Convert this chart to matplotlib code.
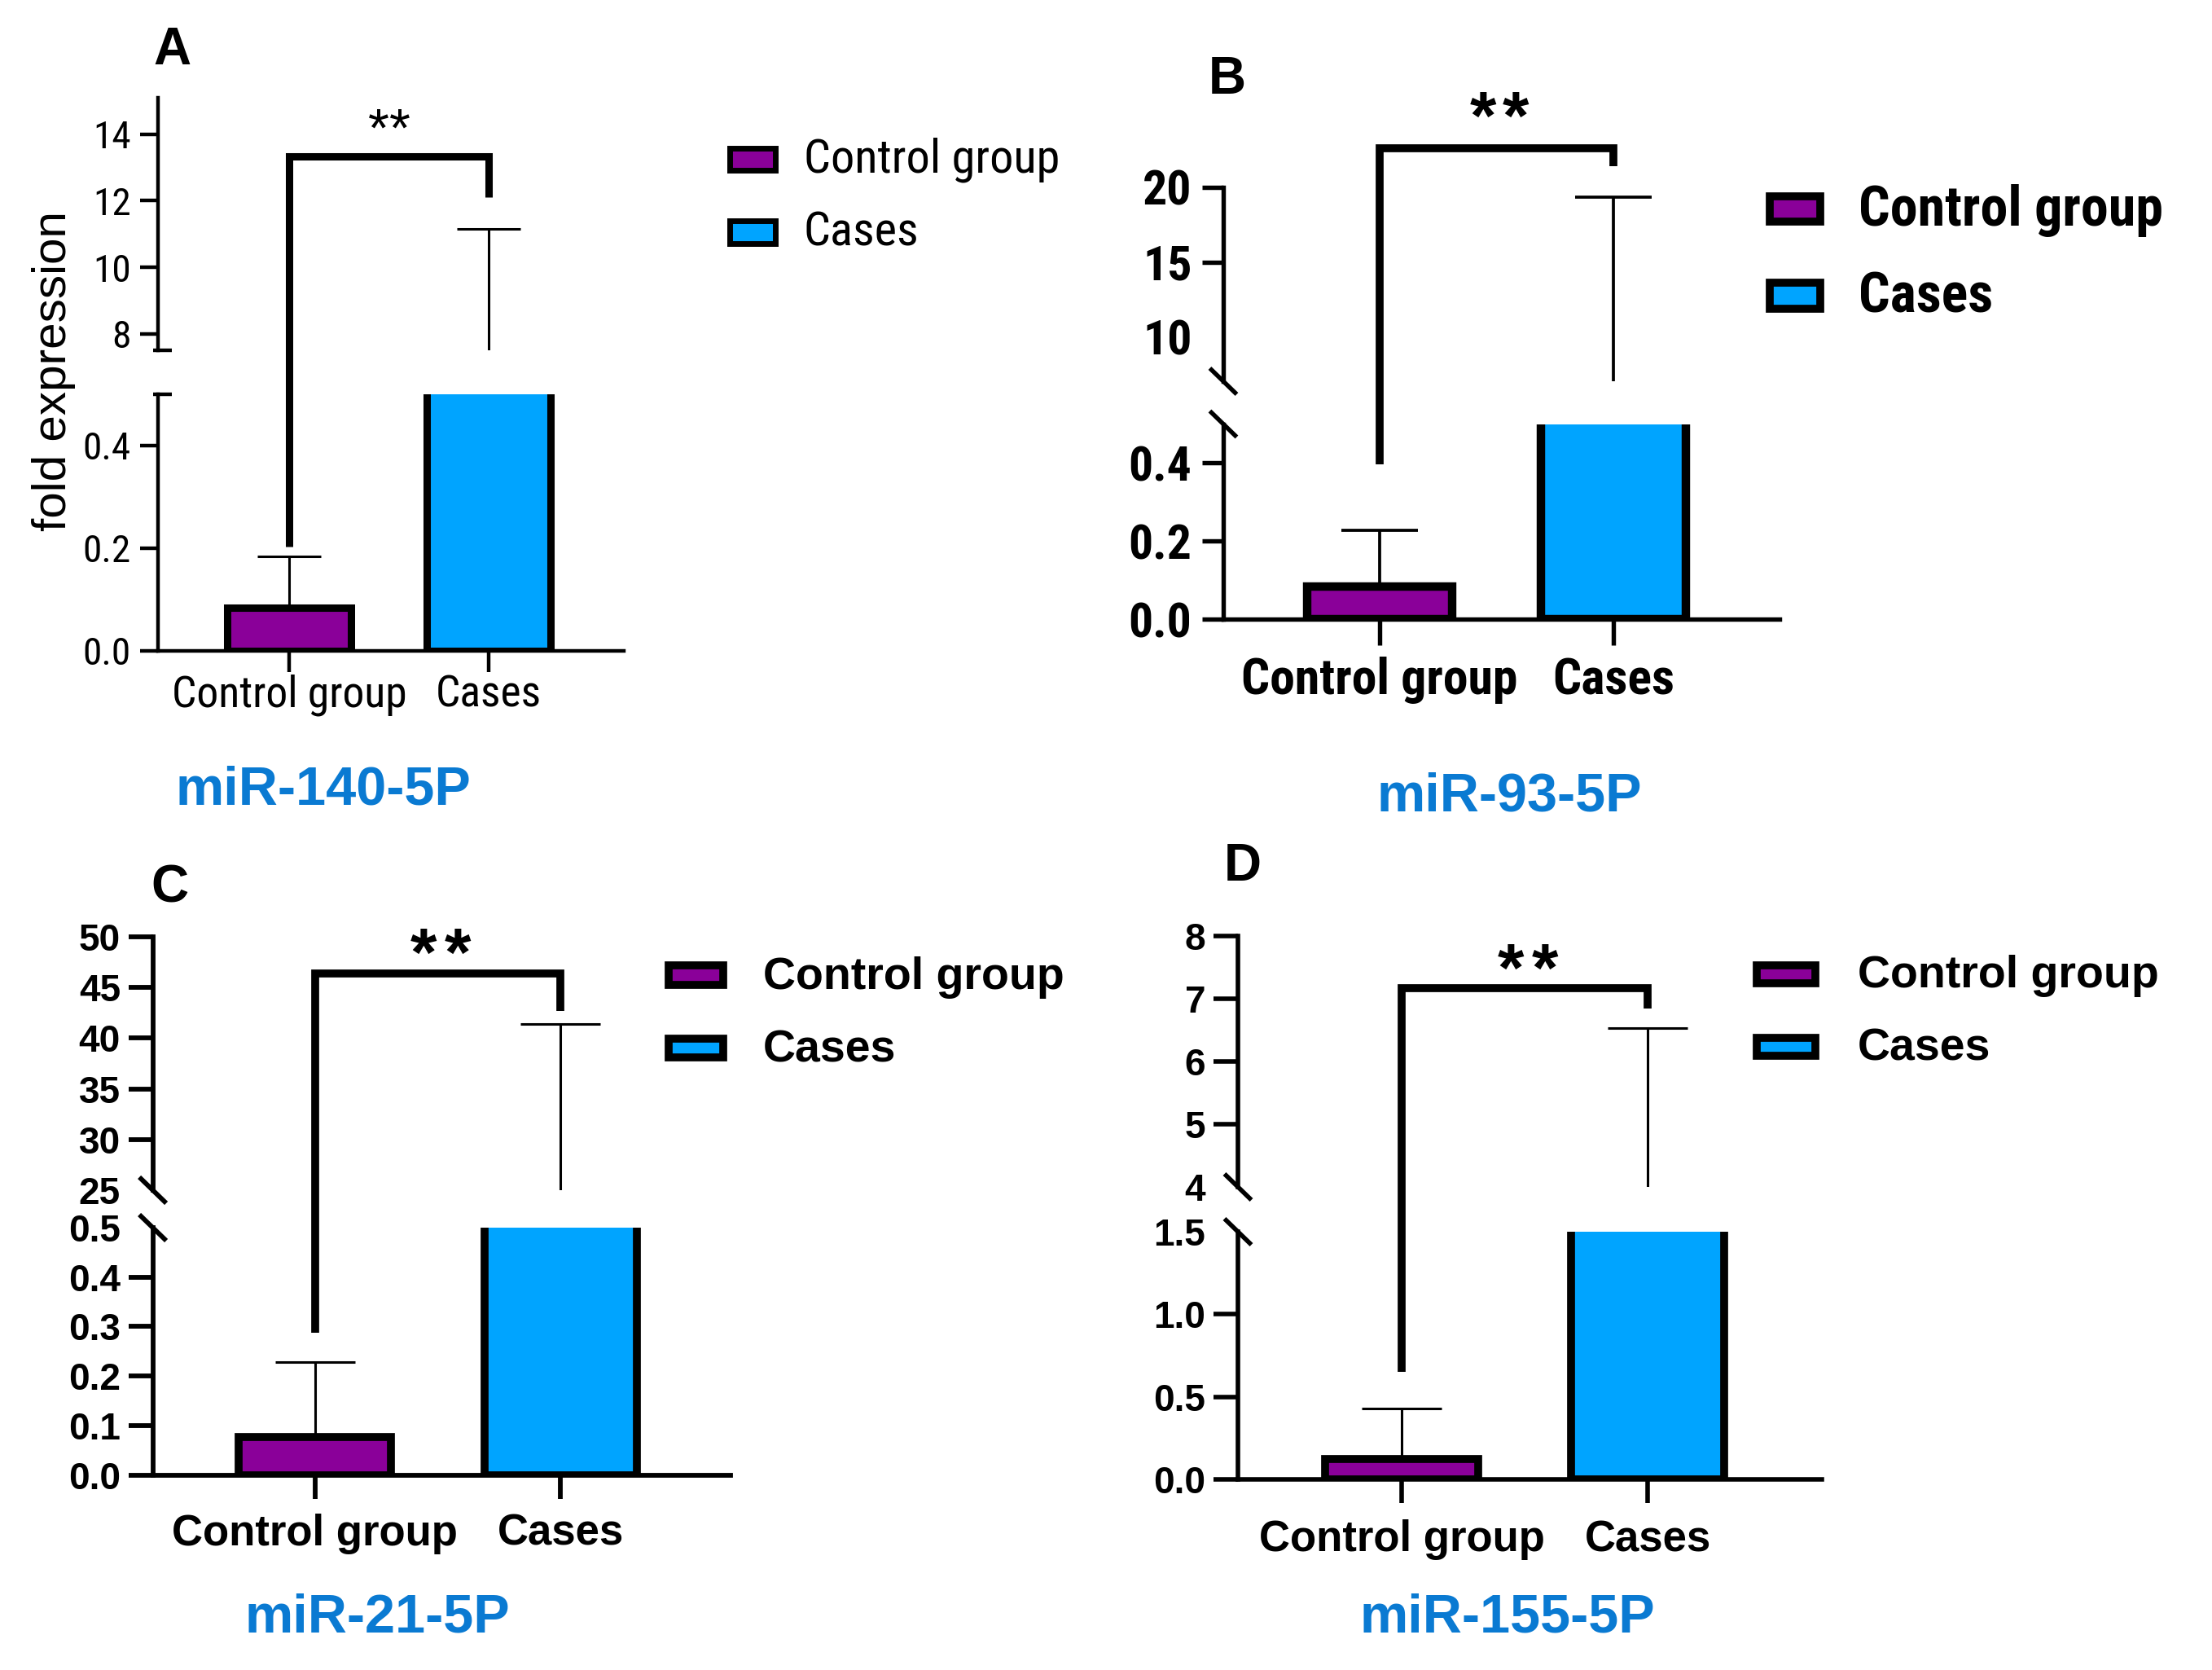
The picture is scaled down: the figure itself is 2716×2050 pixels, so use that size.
import os
import numpy as np
import matplotlib
matplotlib.use("Agg")
import matplotlib.pyplot as plt
from matplotlib import font_manager as fm
from matplotlib.font_manager import FontProperties
from matplotlib.lines import Line2D
from matplotlib.patches import Rectangle
from matplotlib.transforms import IdentityTransform

# ---------------- data ----------------
categories = ["Control group", "Cases"]
panel_letters = ["A", "B", "C", "D"]
mirna_names = ["miR-140-5P", "miR-93-5P", "miR-21-5P", "miR-155-5P"]

control_mean = [0.083, 0.085, 0.077, 0.125]
control_sd = [0.101, 0.144, 0.151, 0.305]
cases_mean = [4.0, 3.5, 12.0, 2.6]
cases_sd = [7.15, 15.86, 29.4, 3.93]

lower_ticks = [[0.0, 0.2, 0.4], [0.0, 0.2, 0.4],
               [0.0, 0.1, 0.2, 0.3, 0.4, 0.5], [0.0, 0.5, 1.0, 1.5]]
upper_ticks = [[8, 10, 12, 14], [10, 15, 20],
               [25, 30, 35, 40, 45, 50], [4, 5, 6, 7, 8]]
lower_limits = [(0, 0.5), (0, 0.5), (0, 0.5), (0, 1.5)]
upper_limits = [(7.5, 15.1), (7, 20), (25, 50), (4, 8)]

bracket_top = [13.34, 22.6, 46.4, 7.16]
bracket_left_end = [0.203, 0.396, 0.288, 0.65]
bracket_right_end = [12.11, 21.44, 42.7, 6.84]
significance = ["**", "**", "**", "**"]

y_label = "fold expression"

# ---------------- fonts ----------------
SANS = "Liberation Sans"


def _weight_num(w):
    if isinstance(w, str):
        return fm.weight_dict.get(w.lower(), 400)
    return int(w)


def _is_narrow(f):
    n = f.name.lower()
    st = f.stretch
    if "narrow" in n or "condensed" in n:
        return True
    if isinstance(st, str):
        return "condensed" in st
    return st < 500


def find_narrow(target_weight):
    prefs = ["liberation sans narrow", "arial narrow", "roboto condensed", "dejavu sans",
             "noto sans", "open sans", "nimbus sans narrow"]
    best = None
    for f in fm.fontManager.ttflist:
        if not _is_narrow(f) or f.style != "normal":
            continue
        base = os.path.basename(f.fname).lower()
        wn = _weight_num(f.weight)
        if "[" in base:
            # variable font: default instance is regular
            wn = 400
        if abs(wn - target_weight) > 50:
            continue
        try:
            rank = prefs.index(f.name.lower())
        except ValueError:
            rank = len(prefs)
        if "semi" in str(f.stretch) or "semi" in base:
            rank += 0.5
        if "[" in base:
            rank += 0.2
        if any(t in base for t in ("light", "thin", "medium", "semibold", "extra", "black")):
            rank += 0.3
        if best is None or rank < best[0]:
            best = (rank, f.fname)
    return best[1] if best else None


narrow_reg_file = find_narrow(400)
narrow_bold_file = find_narrow(700)


def narrow_fp(bold, size):
    fname = narrow_bold_file if bold else narrow_reg_file
    if fname:
        return FontProperties(fname=fname, size=size)
    return FontProperties(family=SANS, weight="bold" if bold else "normal", size=size * 0.85)


def sans_fp(bold, size):
    return FontProperties(family=SANS, weight="bold" if bold else "normal", size=size)


# ---------------- style / layout ----------------
W, H = 2716, 2050
PURPLE = "#8a0099"
BLUE = "#00a4ff"
TITLE_BLUE = "#0a7ad2"

layouts = [
    dict(x_left=194, x_right=766, x_ctrl=355, sp=245, y0=798.7, lo_top=483.7,
         up_bot=430, up_top=120, brk="cap", narrow=True, bold=False,
         tsize=34, xsize=38.5, lsize=42,
         spine=3.2, bar_lw=6.5, br_lw=6.5, wl=2.2, cap=28.4, tlen=16, xtlen=19, tpad=8, xpad=2,
         leg_x=(893, 955), leg_y=[(179, 212), (268, 302)], leg_tx=987, leg_lw=5,
         letter=(211, 79), title=(397, 988), star=(478, 142), star_size=48, star_sep=26),
    dict(x_left=1502, x_right=2185, x_ctrl=1694, sp=287, y0=760.4, lo_top=520.5,
         up_bot=468, up_top=230, brk="slash", narrow=True, bold=True,
         tsize=43, xsize=44.5, lsize=49,
         spine=3.9, bar_lw=7.5, br_lw=7.0, wl=2.7, cap=33.8, tlen=18.7, xtlen=23, tpad=9, xpad=10,
         leg_x=(2168, 2240), leg_y=[(236, 277), (342, 384)], leg_tx=2282, leg_lw=7,
         letter=(1507, 115), title=(1853, 995), star=(1841, 123), star_size=60, star_sep=40),
    dict(x_left=187.6, x_right=896.6, x_ctrl=386.8, sp=301.5, y0=1810.6, lo_top=1507,
         up_bot=1461, up_top=1150, brk="slash", narrow=False, bold=True,
         tsize=33, xsize=38, lsize=40,
         spine=4.2, bar_lw=7.0, br_lw=7.0, wl=2.2, cap=35.3, tlen=21.6, xtlen=21, tpad=7, xpad=13,
         leg_x=(816, 893), leg_y=[(1180, 1214), (1270, 1303)], leg_tx=937, leg_lw=7,
         letter=(208, 1107), title=(463, 2004), star=(541, 1150), star_size=60, star_sep=42),
    dict(x_left=1520, x_right=2237, x_ctrl=1721, sp=302, y0=1816.4, lo_top=1512,
         up_bot=1457, up_top=1148.5, brk="slash", narrow=False, bold=True,
         tsize=33, xsize=38, lsize=40,
         spine=4.0, bar_lw=7.0, br_lw=7.0, wl=2.2, cap=35.3, tlen=21.6, xtlen=21, tpad=7, xpad=14,
         leg_x=(2152, 2234), leg_y=[(1180, 1212), (1269, 1301)], leg_tx=2281, leg_lw=7,
         letter=(1526, 1081), title=(1851, 2004), star=(1876, 1169), star_size=60, star_sep=42),
]

fig = plt.figure(figsize=(W / 100, H / 100), dpi=100)


def fx(x):
    return x / W


def fy(y):
    return 1 - y / H


xs = np.arange(len(categories))

for i, L in enumerate(layouts):
    def fp(size):
        return narrow_fp(L["bold"], size) if L["narrow"] else sans_fp(L["bold"], size)

    width_f = (L["x_right"] - L["x_left"]) / W
    ax_lo = fig.add_axes([fx(L["x_left"]), fy(L["y0"]), width_f, (L["y0"] - L["lo_top"]) / H])
    ax_up = fig.add_axes([fx(L["x_left"]), fy(L["up_bot"]), width_f, (L["up_bot"] - L["up_top"]) / H])
    xlim = ((L["x_left"] - L["x_ctrl"]) / L["sp"], (L["x_right"] - L["x_ctrl"]) / L["sp"])

    means = [control_mean[i], cases_mean[i]]
    sds = [control_sd[i], cases_sd[i]]
    for ax in (ax_lo, ax_up):
        ax.bar(xs, means, width=0.62, color=[PURPLE, BLUE], edgecolor="black",
               linewidth=L["bar_lw"], zorder=2)
        ax.errorbar(xs, means, yerr=[[0] * len(xs), sds], fmt="none", ecolor="black",
                    elinewidth=L["wl"], capsize=L["cap"], capthick=L["wl"], zorder=3)
        ax.set_xlim(xlim)
        for s in ("top", "right"):
            ax.spines[s].set_visible(False)
        for s in ("left", "bottom"):
            ax.spines[s].set_linewidth(L["spine"])
        ax.set_facecolor("none")
        ax.tick_params(axis="y", direction="out", length=L["tlen"], width=L["spine"],
                       pad=L["tpad"])
    ax_up.spines["bottom"].set_visible(False)
    ax_up.tick_params(axis="x", bottom=False, labelbottom=False)
    ax_lo.set_ylim(lower_limits[i])
    ax_up.set_ylim(upper_limits[i])

    lo_t = lower_ticks[i]
    ax_lo.set_yticks(lo_t, [f"{v:.1f}" for v in lo_t])
    ax_up.set_yticks(upper_ticks[i], [f"{v:g}" for v in upper_ticks[i]])
    ax_lo.set_xticks(xs, categories)
    ax_lo.tick_params(axis="x", direction="out", length=L["xtlen"], width=L["spine"],
                      pad=L["xpad"])
    for ax in (ax_lo, ax_up):
        for lab in ax.get_yticklabels():
            lab.set_fontproperties(fp(L["tsize"]))
    for lab in ax_lo.get_xticklabels():
        lab.set_fontproperties(fp(L["xsize"]))

    if L["brk"] == "slash":
        ax_up.yaxis.get_major_ticks()[0].tick1line.set_visible(False)
        if abs(lo_t[-1] - lower_limits[i][1]) < 1e-9:
            ax_lo.yaxis.get_major_ticks()[-1].tick1line.set_visible(False)

    # axis-break marks
    p_up = ax_up.transAxes.transform((0, 0))
    p_lo = ax_lo.transAxes.transform((0, 1))
    for (px, py) in (p_up, p_lo):
        if L["brk"] == "slash":
            xd = [px - 16.5, px + 16.5]
            yd = [py + 16, py - 16]
        else:
            xd = [px - 6, px + 17]
            yd = [py, py]
        fig.add_artist(Line2D(xd, yd, transform=IdentityTransform(), color="black",
                              linewidth=L["spine"], solid_capstyle="butt"))

    # significance bracket spanning both segments
    y_left_up = ax_up.transData.inverted().transform(
        ax_lo.transData.transform((xs[0], bracket_left_end[i])))[1]
    ax_up.plot([xs[0], xs[0], xs[1], xs[1]],
               [y_left_up, bracket_top[i], bracket_top[i], bracket_right_end[i]],
               color="black", linewidth=L["br_lw"], clip_on=False, zorder=5,
               solid_joinstyle="miter", solid_capstyle="butt")

    # significance stars (spaced like the original)
    sx, sy = L["star"]
    em = L["star_size"] / 72 * 100
    n = len(significance[i])
    for k, ch in enumerate(significance[i]):
        cx = sx + (k - (n - 1) / 2) * L["star_sep"]
        fig.text(fx(cx), fy(sy + 0.57 * em), ch, ha="center", va="baseline",
                 fontproperties=sans_fp(L["bold"], L["star_size"]))

    if i == 0:
        fig.text(fx(66), fy(456), y_label, rotation=90, ha="center", va="center",
                 fontproperties=sans_fp(False, 42))

    # legend
    colors = [PURPLE, BLUE]
    lw_px = L["leg_lw"] / 72 * 100
    for k, name in enumerate(categories):
        x0, x1 = L["leg_x"]
        y0, y1 = L["leg_y"][k]
        rect = Rectangle((fx(x0 + lw_px / 2), fy(y1 - lw_px / 2)),
                         (x1 - x0 - lw_px) / W, (y1 - y0 - lw_px) / H,
                         transform=fig.transFigure, facecolor=colors[k],
                         edgecolor="black", linewidth=L["leg_lw"], joinstyle="miter")
        fig.add_artist(rect)
        fig.text(fx(L["leg_tx"]), fy(y1), name, ha="left", va="baseline",
                 fontproperties=fp(L["lsize"]))

    lx, ly = L["letter"]
    fig.text(fx(lx), fy(ly), panel_letters[i], ha="center", va="baseline",
             fontproperties=sans_fp(True, 46))
    tx, ty = L["title"]
    fig.text(fx(tx), fy(ty), mirna_names[i], ha="center", va="baseline",
             fontproperties=sans_fp(True, 48), color=TITLE_BLUE)

fig.savefig("out.png", dpi=100, facecolor="white")
